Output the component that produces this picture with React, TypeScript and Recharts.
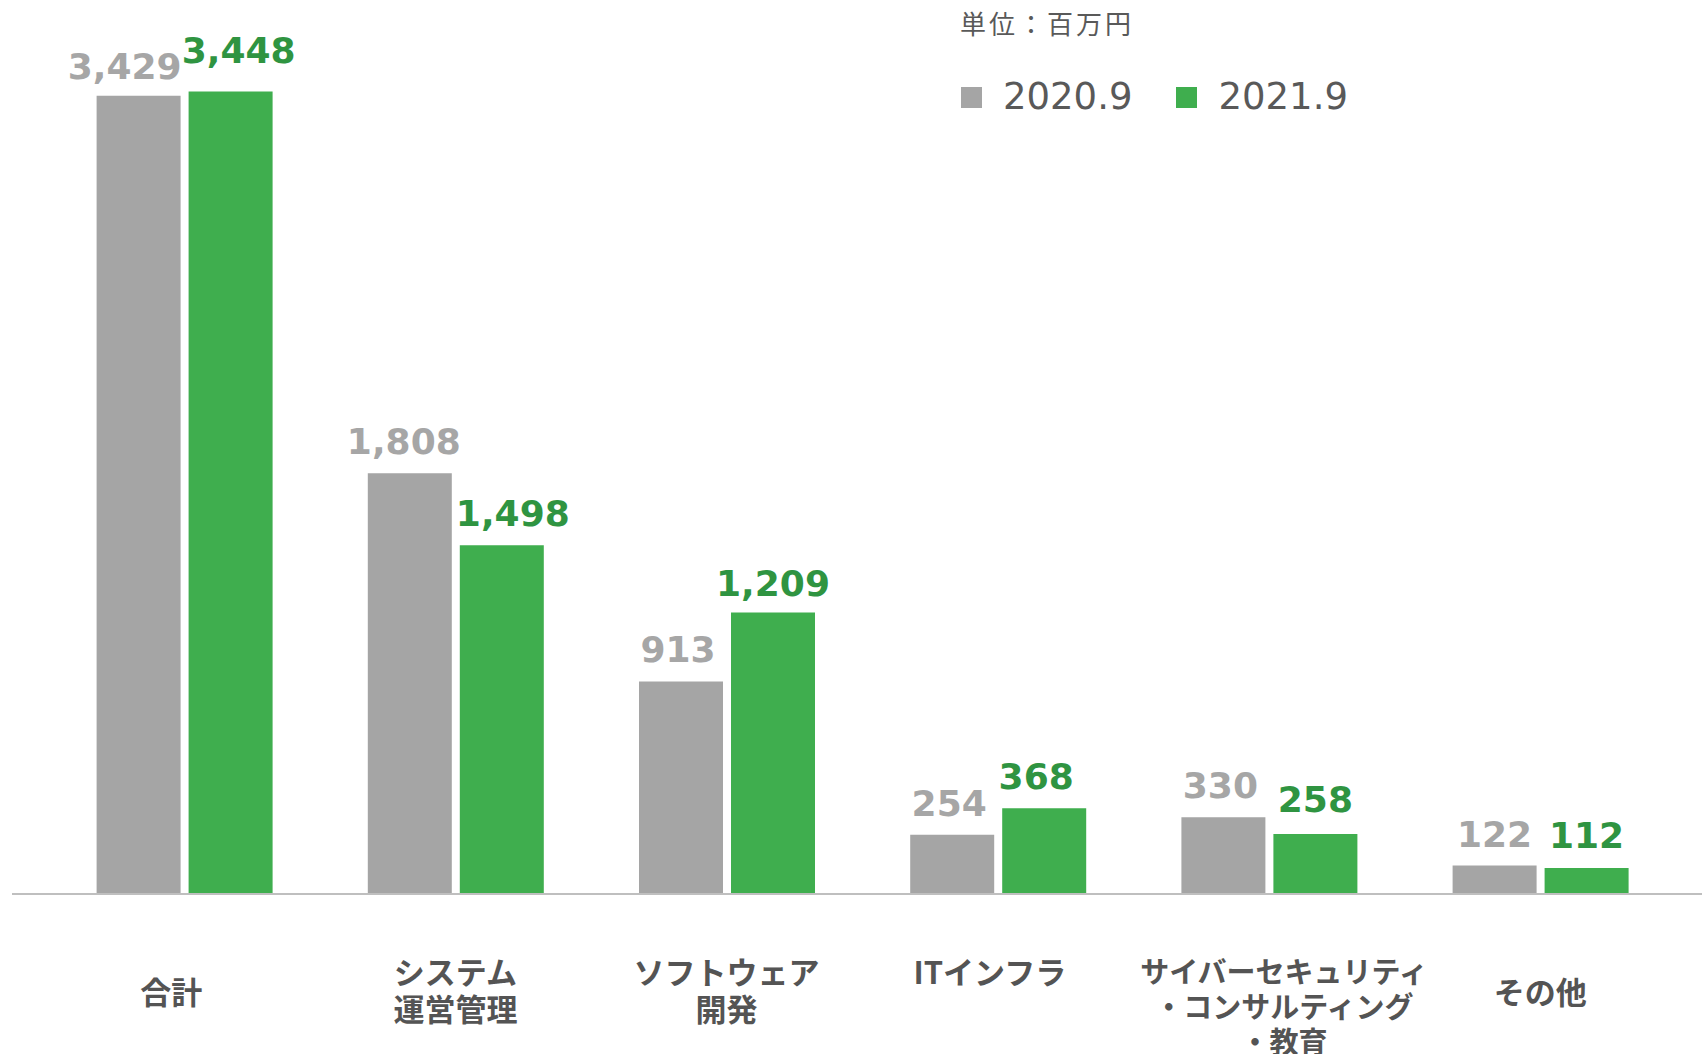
import React from 'react';
import { BarChart, Bar, XAxis, YAxis, LabelList, Legend } from 'recharts';

// ---- data ----
const categories = [
  '合計',
  'システム運営管理',
  'ソフトウェア開発',
  'ITインフラ',
  'サイバーセキュリティ・コンサルティング・教育',
  'その他',
];
const tickLines = [
  ['合計'],
  ['システム', '運営管理'],
  ['ソフトウェア', '開発'],
  ['ITインフラ'],
  ['サイバーセキュリティ', '・コンサルティング', '・教育'],
  ['その他'],
];
const values2020 = [3429, 1808, 913, 254, 330, 122];
const values2021 = [3448, 1498, 1209, 368, 258, 112];
const seriesNames = ['2020.9', '2021.9'];
const unitLabel = '単位：百万円';

// ---- layout / style (not data) ----
const tickValign = ['middle', 'top', 'top', 'top', 'top', 'middle'];
const tickDx = [-13, 0, 0, -8, 15, 0];
const labelDx2020 = [-14, -6, -3, -3, -3, 0];
const labelDx2021 = [8, 11, 0, -8, 0, 0];
const labelDy2020 = [-2, 0, 0, 0, 0, 0];
const labelDy2021 = [9, 0, -2, 0, 3, 1];

const GRAY = '#a5a5a5';
const GREEN = '#3fae4e';
const GRAY_TEXT = '#a6a6a6';
const GREEN_TEXT = '#2f9441';
const DARK_TEXT = '#545454';

const data = categories.map((name, i) => ({
  name,
  v2020: values2020[i],
  v2021: values2021[i],
}));

const CategoryTick = (props: any) => {
  const { x, y, payload } = props;
  const idx = categories.indexOf(payload.value);
  const lines = tickLines[idx] || [String(payload.value)];
  const fs = lines.some((l) => l.length > 8) ? 29 : 31;
  const lh = Math.round(fs * 1.2);
  const top = tickValign[idx] === 'middle' ? y + 96 : y + 76;
  const cx = x + (tickDx[idx] || 0);
  return (
    <text
      x={cx}
      y={top}
      textAnchor="middle"
      dominantBaseline="central"
      fill={DARK_TEXT}
      fontFamily="'Noto Sans CJK JP', sans-serif"
      fontWeight={700}
      fontSize={fs}
    >
      {lines.map((l, i) => (
        <tspan key={i} x={cx} y={top + i * lh}>
          {l}
        </tspan>
      ))}
    </text>
  );
};

const makeValueLabel = (color: string, values: number[], dxs: number[], dys: number[]) => (props: any) => {
  const { x, y, width, value } = props;
  const i = props.index ?? values.indexOf(Number(value));
  return (
    <text
      x={Number(x) + Number(width) / 2 + (dxs[i] || 0)}
      y={Number(y) - 19 - (dys[i] || 0)}
      textAnchor="middle"
      fill={color}
      fontFamily="'DejaVu Sans', Verdana, sans-serif"
      fontWeight={700}
      fontSize={36}
    >
      {Number(value).toLocaleString('en-US')}
    </text>
  );
};

const LegendContent = (props: any) => {
  const payload = props.payload || [];
  return (
    <div style={{ position: 'relative', width: 440, height: 130, color: '#595959' }}>
      <div
        style={{
          position: 'absolute',
          left: 0,
          top: 10,
          fontFamily: "'Noto Sans CJK JP', sans-serif",
          fontSize: 26,
          lineHeight: '26px',
          letterSpacing: 3,
          whiteSpace: 'nowrap',
        }}
      >
        {unitLabel}
      </div>
      <div
        style={{
          position: 'absolute',
          left: 1,
          top: 75,
          height: 44,
          display: 'flex',
          alignItems: 'center',
          whiteSpace: 'nowrap',
        }}
      >
        {payload.map((p: any, i: number) => (
          <div key={i} style={{ display: 'flex', alignItems: 'center', marginRight: 44 }}>
            <div style={{ width: 21, height: 21, background: p.color, marginRight: 21 }} />
            <span
              style={{
                fontFamily: "'DejaVu Sans', Verdana, sans-serif",
                fontSize: 37,
                lineHeight: '44px',
              }}
            >
              {p.value}
            </span>
          </div>
        ))}
      </div>
    </div>
  );
};

export default function App() {
  return (
    <div style={{ position: 'absolute', left: 0, top: 0, background: '#fff' }}>
      <BarChart
        width={1702}
        height={1054}
        data={data}
        margin={{ top: 56, right: 0, bottom: 0, left: 12 }}
        barGap={8}
        barSize={84}
      >
        <XAxis
          dataKey="name"
          axisLine={{ stroke: '#bfbfbf', strokeWidth: 2 }}
          tickLine={false}
          tickSize={0}
          tickMargin={0}
          height={160}
          interval={0}
          padding={{ left: 36.6, right: 26.2 }}
          tick={<CategoryTick />}
        />
        <YAxis hide domain={[0, 3600]} />
        <Legend
          layout="horizontal"
          verticalAlign="middle"
          align="center"
          width={440}
          height={130}
          wrapperStyle={{ left: 960, top: 0 }}
          content={<LegendContent />}
        />
        <Bar dataKey="v2020" name={seriesNames[0]} fill={GRAY} isAnimationActive={false}>
          <LabelList
            dataKey="v2020"
            content={makeValueLabel(GRAY_TEXT, values2020, labelDx2020, labelDy2020)}
          />
        </Bar>
        <Bar dataKey="v2021" name={seriesNames[1]} fill={GREEN} isAnimationActive={false}>
          <LabelList
            dataKey="v2021"
            content={makeValueLabel(GREEN_TEXT, values2021, labelDx2021, labelDy2021)}
          />
        </Bar>
      </BarChart>
    </div>
  );
}
